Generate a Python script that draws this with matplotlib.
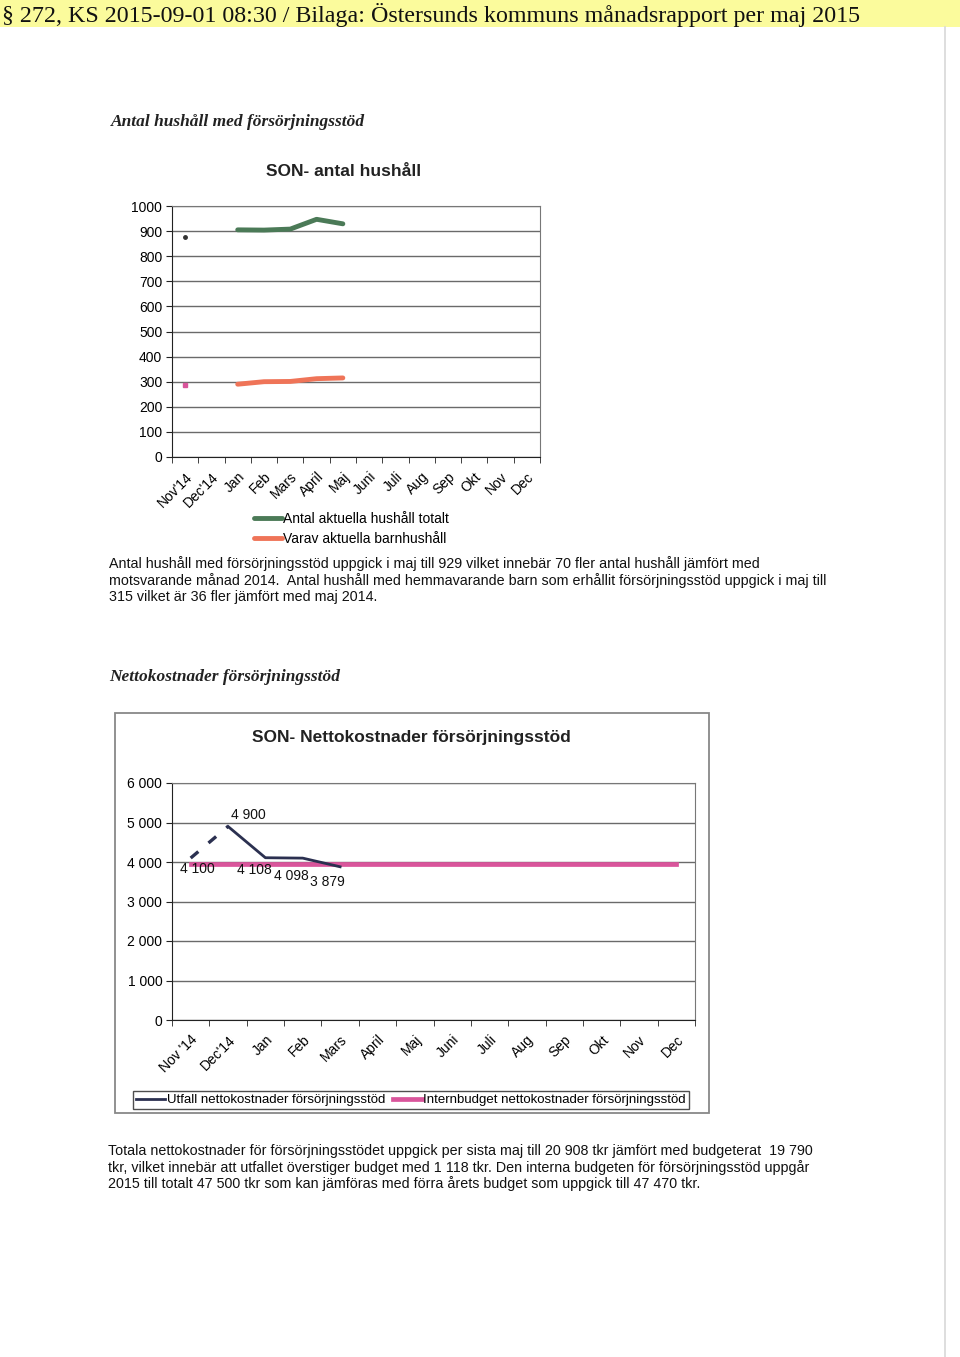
import numpy as np
import matplotlib
matplotlib.use("Agg")
import matplotlib.pyplot as plt
import matplotlib.transforms as mtransforms
from matplotlib.patches import Rectangle

months_1 = ["Nov'14", "Dec'14", "Jan", "Feb", "Mars", "April", "Maj",
            "Juni", "Juli", "Aug", "Sep", "Okt", "Nov", "Dec"]
months_2 = ["Nov '14", "Dec'14", "Jan", "Feb", "Mars", "April", "Maj",
            "Juni", "Juli", "Aug", "Sep", "Okt", "Nov", "Dec"]
nan = np.nan
hushall_totalt = [878, nan, 905, 904, 908, 947, 929, nan, nan, nan, nan, nan, nan, nan]
barnhushall = [286, nan, 290, 300, 301, 312, 315, nan, nan, nan, nan, nan, nan, nan]
utfall = [4100, 4900, 4108, 4098, 3879, nan, nan, nan, nan, nan, nan, nan, nan, nan]
internbudget = [3958] * 14
utfall_labels = ["4 100", "4 900", "4 108", "4 098", "3 879"]

header = "§ 272, KS 2015-09-01 08:30 / Bilaga: Östersunds kommuns månadsrapport per maj 2015"
text_1 = ["Antal hushåll med försörjningsstöd uppgick i maj till 929 vilket innebär 70 fler antal hushåll jämfört med",
          "motsvarande månad 2014.  Antal hushåll med hemmavarande barn som erhållit försörjningsstöd uppgick i maj till",
          "315 vilket är 36 fler jämfört med maj 2014."]
text_2 = ["Totala nettokostnader för försörjningsstödet uppgick per sista maj till 20 908 tkr jämfört med budgeterat  19 790",
          "tkr, vilket innebär att utfallet överstiger budget med 1 118 tkr. Den interna budgeten för försörjningsstöd uppgår",
          "2015 till totalt 47 500 tkr som kan jämföras med förra årets budget som uppgick till 47 470 tkr."]

W, H = 960, 1357
plt.rcParams["font.family"] = ["Liberation Sans", "DejaVu Sans"]

fig = plt.figure(figsize=(W / 100, H / 100), dpi=100)
fig.patch.set_facecolor("white")


def fx(px):
    return px / W


def fy(py):
    return 1 - py / H


def ax_rect(l, t, r, b):
    return [fx(l), fy(b), fx(r) - fx(l), fy(t) - fy(b)]


# header band
fig.patches.append(Rectangle((0, fy(27)), 1, 27 / H, transform=fig.transFigure,
                             facecolor="#fbfb9c", edgecolor="none", zorder=0))
fig.text(fx(2), fy(15), header, fontsize=17.3, family=["Liberation Serif", "DejaVu Serif"],
         va="center", ha="left", color="#111")
# scan edge
fig.add_artist(plt.Line2D([fx(945), fx(945)], [0, fy(27)], transform=fig.transFigure,
                          color="#d8d8d8", lw=1.2))

fig.text(fx(111), fy(122), "Antal hushåll med försörjningsstöd", fontsize=12.5,
         family=["Liberation Serif", "DejaVu Serif"], style="italic", weight="bold",
         va="center", color="#222")
fig.text(fx(344), fy(171), "SON- antal hushåll", fontsize=12.5, weight="bold",
         ha="center", va="center", color="#222")

x = np.arange(14)
shift = mtransforms.ScaledTranslation(-6 / 100, 0, fig.dpi_scale_trans)


def style_axes(ax, top_val, step, fmt, labels):
    ax.set_xlim(-0.5, 13.5)
    ax.set_ylim(0, top_val)
    ax.set_yticks(np.arange(0, top_val + 1, step))
    ax.set_yticklabels([fmt(v) for v in np.arange(0, top_val + 1, step)], fontsize=10)
    ax.yaxis.grid(True, color="#6a6a6a", lw=1.0)
    ax.set_axisbelow(True)
    ax.set_xticks(x)
    ax.set_xticklabels(labels, rotation=45, ha="right", va="top",
                       rotation_mode="anchor", fontsize=10)
    for t in ax.get_xticklabels():
        t.set_transform(t.get_transform() + shift)
    ax.tick_params(axis="x", which="major", length=0, pad=9)
    ax.set_xticks(np.arange(-0.5, 14, 1), minor=True)
    ax.tick_params(axis="x", which="minor", length=4, color="#222")
    ax.tick_params(axis="y", length=4, color="#222", pad=3)
    for s in ("top", "right"):
        ax.spines[s].set_color("#777")
    for s in ("left", "bottom"):
        ax.spines[s].set_color("#222")


# chart 1
ax1 = fig.add_axes(ax_rect(172, 206, 540, 457))
style_axes(ax1, 1000, 100, lambda v: f"{int(v)}", months_1)
ax1.plot(x, hushall_totalt, color="#4b7a57", lw=3.5, solid_capstyle="round",
         label="Antal aktuella hushåll totalt")
ax1.plot(x, barnhushall, color="#ef7458", lw=3.5, solid_capstyle="round",
         label="Varav aktuella barnhushåll")
ax1.plot(x[0], hushall_totalt[0], "o", color="#333", ms=2.5)
ax1.plot(x[0], barnhushall[0], "s", color="#d9559b", ms=3)
ax1.legend(loc="upper left", bbox_to_anchor=(fx(247), fy(505)), bbox_transform=fig.transFigure,
           frameon=False, fontsize=10, handlelength=2.0, handletextpad=0.1,
           labelspacing=0.45, borderpad=0)

for i, line in enumerate(text_1):
    fig.text(fx(109), fy(564 + i * 16.5), line, fontsize=10.3, va="center", color="#111")

# chart 2
fig.text(fx(109), fy(677), "Nettokostnader försörjningsstöd", fontsize=12.5,
         family=["Liberation Serif", "DejaVu Serif"], style="italic", weight="bold",
         va="center", color="#222")
fig.patches.append(Rectangle((fx(115), fy(1113)), fx(709) - fx(115), fy(713) - fy(1113),
                             transform=fig.transFigure, facecolor="none",
                             edgecolor="#888", lw=1.3))
fig.text(fx(411), fy(737), "SON- Nettokostnader försörjningsstöd", fontsize=12.5,
         weight="bold", ha="center", va="center", color="#222")

ax2 = fig.add_axes(ax_rect(172, 783, 695, 1020))
style_axes(ax2, 6000, 1000, lambda v: f"{int(v):,}".replace(",", " "), months_2)
ax2.plot(x, internbudget, color="#d9559b", lw=3.4,
         label="Internbudget nettokostnader försörjningsstöd", zorder=2)
ax2.plot(x[:2], utfall[:2], color="#2b3050", lw=2.4, dashes=(3, 4), zorder=3)
ax2.plot(x[1:], utfall[1:], color="#2b3050", lw=2.0, zorder=3,
         label="Utfall nettokostnader försörjningsstöd")
label_off = [(5, -8), (15, 8), (-8, -9), (-8, -13), (-9, -11)]
for i, (lab, off) in enumerate(zip(utfall_labels, label_off)):
    ax2.annotate(lab, (x[i], utfall[i]), xytext=off, textcoords="offset points",
                 ha="center", va="center", fontsize=10, color="#111")
h, l = ax2.get_legend_handles_labels()
leg = ax2.legend(h[::-1], l[::-1], loc="center", bbox_to_anchor=(fx(411), fy(1100)),
                 bbox_transform=fig.transFigure, ncol=2, fontsize=9.5, frameon=True,
                 fancybox=False, edgecolor="#222", handlelength=2.2, handletextpad=0.1,
                 columnspacing=0.6, borderpad=0.25)
leg.get_frame().set_linewidth(1.0)

for i, line in enumerate(text_2):
    fig.text(fx(108), fy(1151 + i * 16.5), line, fontsize=10.3, va="center", color="#111")

fig.savefig("out.png", dpi=100, facecolor="white")
